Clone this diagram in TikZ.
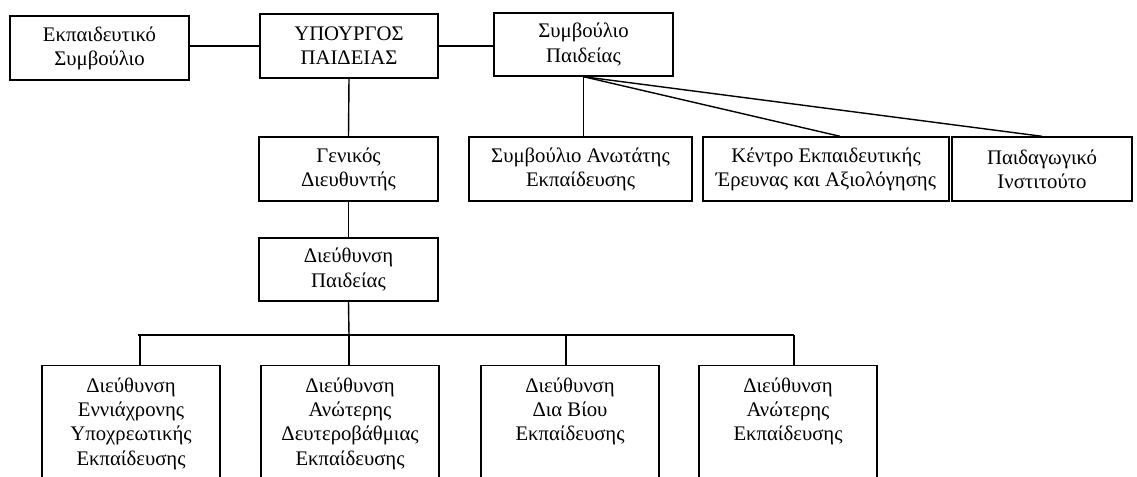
\documentclass[tikz,border=0pt]{standalone}
\usepackage{fontspec}
\setmainfont{Liberation Serif}
\usepackage{tikz}

\begin{document}
\begin{tikzpicture}[x=0.02cm,y=-0.02cm,line width=0.8pt]
\tikzstyle{box}=[rectangle,draw=black,line width=0.8pt,inner sep=0pt,align=center,minimum height=1.28cm,font=\fontsize{11.8}{13.7}\selectfont]
\tikzstyle{lowbox}=[box,anchor=north,minimum height=0pt]
\path[use as bounding box,clip] (0,0) rectangle (1137,477);
% top row
\node[box,minimum width=3.58cm] (eks) at (99.5,48) {Εκπαιδευτικό\\Συμβούλιο};
\node[box,minimum width=3.56cm] (ypo) at (349,46) {ΥΠΟΥΡΓΟΣ\\ΠΑΙΔΕΙΑΣ};
\node[box,minimum width=3.58cm,minimum height=1.26cm] (symp) at (583.5,44.5) {Συμβούλιο\\Παιδείας};
% second row
\node[box,minimum width=3.58cm] (gen) at (348.5,169) {Γενικός\\Διευθυντής};
\node[box,minimum width=4.46cm] (sae) at (580.5,169) {Συμβούλιο Ανωτάτης\\Εκπαίδευσης};
\node[box,minimum width=4.92cm] (keea) at (826,169) {Κέντρο Εκπαιδευτικής\\Έρευνας και Αξιολόγησης};
\node[box,minimum width=3.6cm] (pi) at (1042,169) {Παιδαγωγικό\\Ινστιτούτο};
\node[box,minimum width=3.58cm,minimum height=1.26cm] (dp) at (348.5,269.5) {Διεύθυνση\\Παιδείας};
% directorates
\node[lowbox] (d1) at (131,365) {\parbox[t][2.6cm][t]{3.56cm}{\centering\vspace*{0.25cm}Διεύθυνση\\Εννιάχρονης\\Υποχρεωτικής\\Εκπαίδευσης}};
\node[lowbox] (d2) at (350,365) {\parbox[t][2.6cm][t]{3.56cm}{\centering\vspace*{0.25cm}Διεύθυνση\\Ανώτερης\\Δευτεροβάθμιας\\Εκπαίδευσης}};
\node[lowbox] (d3) at (570,365) {\parbox[t][2.6cm][t]{3.56cm}{\centering\vspace*{0.25cm}Διεύθυνση\\Δια Βίου\\Εκπαίδευσης}};
\node[lowbox] (d4) at (788,365) {\parbox[t][2.6cm][t]{3.56cm}{\centering\vspace*{0.25cm}Διεύθυνση\\Ανώτερης\\Εκπαίδευσης}};
\coordinate (busl) at (138,335);
\coordinate (busr) at (794,335);
\coordinate (bus) at (349,335);

\draw (ypo.west -| eks.east) -- (ypo.west);
\draw (ypo.east) -- (ypo.east -| symp.west);
\draw (ypo.south) -- (gen.north);
\draw (symp.south) -- (symp.south |- sae.north);
\draw (symp.south) -- ([xshift=0.28cm]keea.north);
\draw (symp.south) -- (pi.north);
\draw (gen.south) -- (dp.north);
\draw (dp.south) -- (bus);
\draw (busl) -- (busr);
\draw ([xshift=0.04cm]busl) -- ([xshift=0.04cm]busl |- d1.north);
\draw (bus) -- (bus |- d2.north);
\draw ([xshift=-0.08cm]d3.north |- bus) -- ([xshift=-0.08cm]d3.north);
\draw (busr) -- (busr |- d4.north);
\end{tikzpicture}
\end{document}
